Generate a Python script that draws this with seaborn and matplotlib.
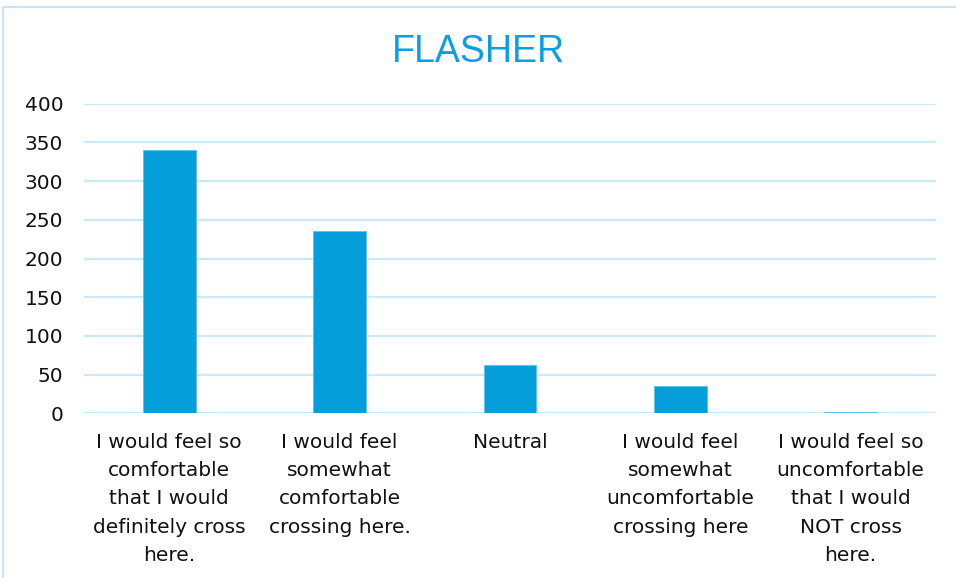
import matplotlib
matplotlib.use("Agg")
import matplotlib.pyplot as plt
import seaborn as sns
import pandas as pd
from matplotlib.lines import Line2D

categories = [
    "I would feel so\ncomfortable\nthat I would\ndefinitely cross\nhere.",
    "I would feel\nsomewhat\ncomfortable\ncrossing here.",
    "Neutral",
    "I would feel\nsomewhat\nuncomfortable\ncrossing here",
    "I would feel so\nuncomfortable\nthat I would\nNOT cross\nhere.",
]
values = [340, 236, 63, 35, 2]
yticks = [0, 50, 100, 150, 200, 250, 300, 350, 400]
title = "FLASHER"

sns.set_theme(style="white")
plt.rcParams["font.family"] = ["DejaVu Sans"]

df = pd.DataFrame({"cat": categories, "val": values})

fig = plt.figure(figsize=(9.56, 5.78), dpi=100)
ax = fig.add_axes([0.0879, 0.285, 0.891, 0.5355])

sns.barplot(data=df, x="cat", y="val", color="#049FDA", saturation=1,
            width=0.31, ax=ax, edgecolor="#5BC0EA", linewidth=0.6, zorder=3)

ax.set_ylim(0, 400)
ax.set_yticks(yticks)
ax.set_yticklabels([str(t) for t in yticks], fontsize=14.5, color="#111111")
ax.set_xlim(-0.5, 4.5)
ax.grid(axis="y", color="#CBEAF9", linewidth=1.6, zorder=0)
ax.set_axisbelow(True)
for s in ax.spines.values():
    s.set_visible(False)
ax.tick_params(axis="y", length=0, pad=15)
ax.tick_params(axis="x", length=0, pad=14)
for lab in ax.get_xticklabels():
    lab.set_fontsize(14.5)
    lab.set_color("#111111")
    lab.set_linespacing(1.62)
    lab.set_verticalalignment("top")
ax.set_xlabel("")
ax.set_ylabel("")

fig.text(0.5, 0.91, title, ha="center", va="center", fontsize=27,
         color="#0A9FE3", family="Liberation Sans")

# chart frame (top and left edges visible)
fig.add_artist(Line2D([3 / 956, 1.0], [1 - 7 / 578, 1 - 7 / 578], transform=fig.transFigure,
                      color="#C5E6F7", linewidth=1.5))
fig.add_artist(Line2D([3 / 956, 3 / 956], [0, 1 - 7 / 578], transform=fig.transFigure,
                      color="#C5E6F7", linewidth=1.5))

fig.savefig("out.png", dpi=100)
